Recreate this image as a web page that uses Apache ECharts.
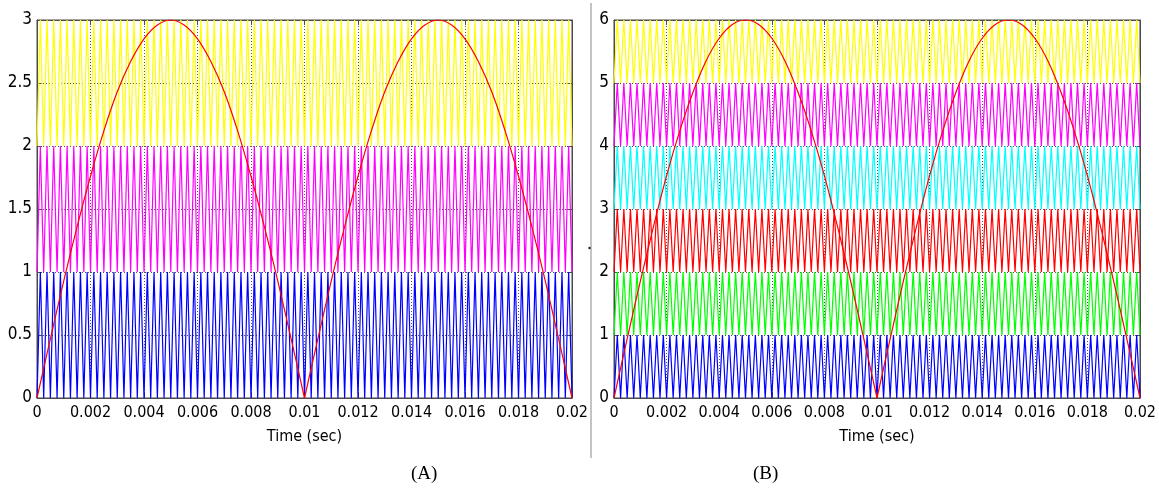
<!DOCTYPE html>
<html>
<head>
<meta charset="utf-8">
<script src="https://cdn.jsdelivr.net/npm/echarts@6/dist/echarts.min.js"></script>
<style>
html,body{margin:0;padding:0;background:#fff;}
#chart{width:1159px;height:491px;}
</style>
</head>
<body>
<div id="chart"></div>
<script>
// ---- data ----
const xTickLabels = ['0','0.002','0.004','0.006','0.008','0.01','0.012','0.014','0.016','0.018','0.02'];
const yTickLabelsA = ['0','0.5','1','1.5','2','2.5','3'];
const yTickLabelsB = ['0','1','2','3','4','5','6'];

// sample times of the red reference curve (s)
const refTimes = [0,0.0005,0.001,0.0015,0.002,0.0025,0.003,0.0035,0.004,0.0045,0.005,
  0.0055,0.006,0.0065,0.007,0.0075,0.008,0.0085,0.009,0.0095,0.01,
  0.0105,0.011,0.0115,0.012,0.0125,0.013,0.0135,0.014,0.0145,0.015,
  0.0155,0.016,0.0165,0.017,0.0175,0.018,0.0185,0.019,0.0195,0.02];
// red reference (rectified sine) panel A, peak 3
const refA = [0,0.47,0.93,1.36,1.76,2.12,2.43,2.67,2.85,2.96,3.00,
  2.96,2.85,2.67,2.43,2.12,1.76,1.36,0.93,0.47,0,
  0.47,0.93,1.36,1.76,2.12,2.43,2.67,2.85,2.96,3.00,
  2.96,2.85,2.67,2.43,2.12,1.76,1.36,0.93,0.47,0];
// red reference panel B, peak 6
const refB = [0,0.94,1.85,2.72,3.53,4.24,4.85,5.35,5.71,5.93,6.00,
  5.93,5.71,5.35,4.85,4.24,3.53,2.72,1.85,0.94,0,
  0.94,1.85,2.72,3.53,4.24,4.85,5.35,5.71,5.93,6.00,
  5.93,5.71,5.35,4.85,4.24,3.53,2.72,1.85,0.94,0];

// triangular carriers (4 kHz, level shifted, in phase)
const carrierPeriod = 0.00025;
const carrierEnd = 0.02;
const carrierLevelsA = [0,1,2];
const carrierColorsA = ['#0000ff','#ff00ff','#ffff00'];
const carrierLevelsB = [0,1,2,3,4,5];
const carrierColorsB = ['#0000ff','#00ff00','#ff0000','#00ffff','#ff00ff','#ffff00'];

// ---- build ----
function carrierData(level){
  const n = Math.round(carrierEnd/(carrierPeriod/2));
  const d = [];
  for(let k=0;k<=n;k++){ d.push([k*carrierPeriod/2, level + (k%2)]); }
  return d;
}
function refData(vals, from, to){
  const d=[];
  for(let i=from;i<=to;i++) d.push([refTimes[i], vals[i]]);
  return d;
}
const FONT = '"Liberation Sans Narrow","DejaVu Sans Condensed","Liberation Sans",sans-serif';
const frame = '#4a4a4a';
const gridLine = {show:true, lineStyle:{color:'#555', type:[1,2], width:1}};

function xAxisBottom(gi){
  return {type:'value', gridIndex:gi, min:0, max:0.02, interval:0.002, position:'bottom',
    name:'Time (sec)', nameLocation:'middle', nameGap:31,
    nameTextStyle:{color:'#000', fontSize:16, fontFamily:FONT},
    axisLine:{show:true, onZero:false, lineStyle:{color:frame, width:1}},
    axisTick:{show:true, inside:true, length:5, lineStyle:{color:frame}},
    axisLabel:{color:'#000', fontSize:16, fontFamily:FONT, margin:7,
      formatter:v=>xTickLabels[Math.round(v/0.002)]},
    splitLine:gridLine};
}
function xAxisTop(gi){
  return {type:'value', gridIndex:gi, min:0, max:0.02, interval:0.002, position:'top',
    axisLine:{show:true, onZero:false, lineStyle:{color:frame, width:1}},
    axisTick:{show:true, inside:true, length:5, lineStyle:{color:frame}},
    axisLabel:{show:false}, splitLine:{show:false}};
}
function yAxisLeft(gi, max, interval, labels){
  return {type:'value', gridIndex:gi, min:0, max:max, interval:interval, position:'left',
    axisLine:{show:true, onZero:false, lineStyle:{color:frame, width:1}},
    axisTick:{show:true, inside:true, length:5, lineStyle:{color:frame}},
    axisLabel:{color:'#000', fontSize:17, fontFamily:FONT, margin:5,
      formatter:v=>labels[Math.round(v/interval)]},
    splitLine:gridLine};
}
function yAxisRight(gi, max, interval){
  return {type:'value', gridIndex:gi, min:0, max:max, interval:interval, position:'right',
    axisLine:{show:true, onZero:false, lineStyle:{color:frame, width:1}},
    axisTick:{show:true, inside:true, length:5, lineStyle:{color:frame}},
    axisLabel:{show:false}, splitLine:{show:false}};
}

const series = [];
carrierLevelsA.forEach((L,i)=>series.push({type:'line', xAxisIndex:0, yAxisIndex:0, data:carrierData(L),
  symbol:'none', lineStyle:{color:carrierColorsA[i], width:1.2}, silent:true, z:2}));
carrierLevelsB.forEach((L,i)=>series.push({type:'line', xAxisIndex:2, yAxisIndex:2, data:carrierData(L),
  symbol:'none', lineStyle:{color:carrierColorsB[i], width:1.2}, silent:true, z:2}));
[[0,20],[20,40]].forEach(r=>{
  series.push({type:'line', xAxisIndex:0, yAxisIndex:0, data:refData(refA,r[0],r[1]), smooth:0.35,
    symbol:'none', lineStyle:{color:'#ff0000', width:1.2}, z:5});
  series.push({type:'line', xAxisIndex:2, yAxisIndex:2, data:refData(refB,r[0],r[1]), smooth:0.35,
    symbol:'none', lineStyle:{color:'#ff0000', width:1.2}, z:5});
});

const chart = echarts.init(document.getElementById('chart'), null, {renderer:'canvas'});
chart.setOption({
  animation:false,
  backgroundColor:'#ffffff',
  grid:[
    {left:37, top:20, width:535, height:378, show:true, borderColor:frame, borderWidth:1, backgroundColor:'#fff'},
    {left:614, top:20, width:527, height:378, show:true, borderColor:frame, borderWidth:1, backgroundColor:'#fff'}
  ],
  xAxis:[xAxisBottom(0), xAxisTop(0), xAxisBottom(1), xAxisTop(1)],
  yAxis:[yAxisLeft(0,3,0.5,yTickLabelsA), yAxisRight(0,3,0.5), yAxisLeft(1,6,1,yTickLabelsB), yAxisRight(1,6,1)],
  series:series,
  graphic:[
    {type:'line', shape:{x1:591, y1:3, x2:591, y2:458}, style:{stroke:'#c4c4c4', lineWidth:2}, silent:true},
    {type:'circle', shape:{cx:589.5, cy:248, r:1.2}, style:{fill:'#222'}, silent:true},
    {type:'text', left:411, top:465, style:{text:'(A)', font:'19px "Liberation Serif","Times New Roman",serif', fill:'#000'}},
    {type:'text', left:753, top:465, style:{text:'(B)', font:'19px "Liberation Serif","Times New Roman",serif', fill:'#000'}}
  ]
});
</script>
</body>
</html>
